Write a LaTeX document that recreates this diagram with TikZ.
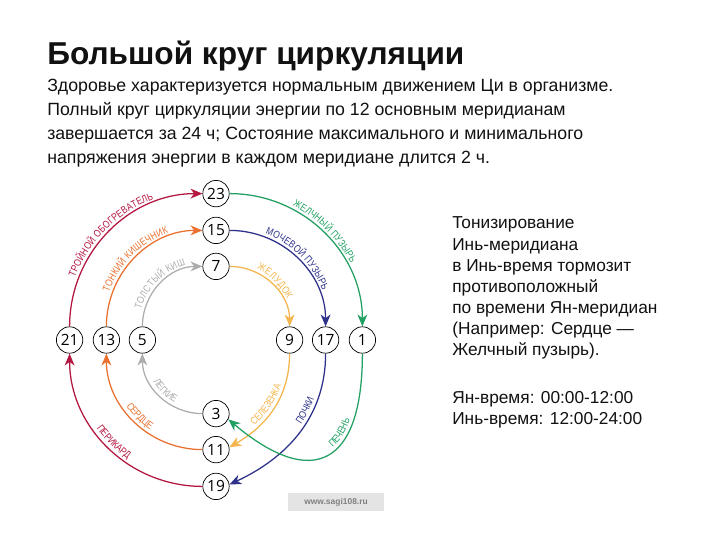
\documentclass[tikz,border=0pt]{standalone}
\usepackage{fontspec}
\setmainfont{Liberation Sans}
\newfontfamily\numfont{Open Sans}
\newfontfamily\arcfont[FakeStretch=0.82]{Liberation Sans}
\usepackage{xcolor}
\usepackage{tikz}
\usetikzlibrary{arrows.meta,decorations.text}
\definecolor{ArcRed}{HTML}{B3163F}
\definecolor{ArcOrange}{HTML}{E9702E}
\definecolor{ArcGray}{HTML}{ADADAD}
\definecolor{ArcYellow}{HTML}{F5B54E}
\definecolor{ArcBlue}{HTML}{2D3189}
\definecolor{ArcGreen}{HTML}{22A062}
\definecolor{TextDark}{HTML}{111111}
\definecolor{MarkGray}{HTML}{E4E4E4}

\begin{document}
\begin{tikzpicture}[hour/.style={circle,draw=black,fill=white,line width=0.5pt,
                        minimum size=0.66cm,inner sep=0pt,
                        font=\numfont\fontsize{11}{11}\selectfont},
                    fwd/.style={-{Stealth[length=8.5pt,width=7pt,inset=2.6pt]},line width=0.9pt},
                    rev/.style={{Stealth[length=8.5pt,width=7pt,inset=2.6pt]}-,line width=0.9pt},
                    lbl/.style n args={3}{postaction={decorate,decoration={text along path,
                        text={|\arcfont\fontsize{7.3}{7.3}\selectfont\color{#1}|#2},
                        text align={align=center,left indent=#3},raise=2.5pt}}}]
      \useasboundingbox (0,0) rectangle (18,-13.5);
      % heading and text
      \node[anchor=base west, inner sep=0pt, text=TextDark,
            font=\bfseries\fontsize{22.5}{26}\selectfont]
        (title) at (1.175,-1.60) {Большой круг циркуляции};
      \node[anchor=north west, inner sep=0pt, align=left, text=TextDark,
            font=\fontsize{12.6}{17}\selectfont]
        (intro) at (1.175,-1.97)
        {Здоровье характеризуется нормальным движением Ци в организме.\\
         Полный круг циркуляции энергии по 12 основным меридианам\\
         завершается за 24 ч; Состояние максимального и минимального\\
         напряжения энергии в каждом меридиане длится 2 ч.};
      \node[anchor=north west, inner sep=0pt, align=left, text=TextDark,
            font=\fontsize{12.3}{15}\selectfont]
        (note) at (11.3,-5.42)
        {Тонизирование\\
         Инь-меридиана\\
         в Инь-время тормозит\\
         противоположный\\
         по времени Ян-меридиан\\
         (Например: Сердце —\\
         Желчный пузырь).\\[19pt]
         Ян-время: 00:00-12:00\\
         Инь-время: 12:00-24:00};
      % hours
      \node[hour] (n23) at (5.40,-4.84) {23};
      \node[hour] (n15) at (5.40,-5.76) {15};
      \node[hour] (n7)  at (5.40,-6.66) {7};
      \node[hour] (n21) at (1.74,-8.50) {21};
      \node[hour] (n13) at (2.66,-8.50) {13};
      \node[hour] (n5)  at (3.56,-8.50) {5};
      \node[hour] (n9)  at (7.24,-8.50) {9};
      \node[hour] (n17) at (8.14,-8.50) {17};
      \node[hour] (n1)  at (9.06,-8.50) {1};
      \node[hour] (n3)  at (5.40,-10.34) {3};
      \node[hour] (n11) at (5.40,-11.24) {11};
      \node[hour] (n19) at (5.40,-12.16) {19};
      % meridians
      \draw[fwd,ArcRed,lbl={ArcRed}{ТРОЙНОЙ ОБОГРЕВАТЕЛЬ}{0pt}] (n21) to[out=90,in=180] (n23);
      \draw[fwd,ArcGreen,lbl={ArcGreen}{ЖЕЛЧНЫЙ ПУЗЫРЬ}{0pt}] (n23) to[out=0,in=90] (n1);
      \draw[fwd,ArcOrange,lbl={ArcOrange}{ТОНКИЙ КИШЕЧНИК}{0pt}] (n13) to[out=90,in=180] (n15);
      \draw[fwd,ArcBlue,lbl={ArcBlue}{МОЧЕВОЙ ПУЗЫРЬ}{0pt}] (n15) to[out=0,in=90] (n17);
      \draw[fwd,ArcGray,lbl={ArcGray}{ТОЛСТЫЙ КИШ}{0pt}] (n5) to[out=90,in=180] (n7);
      \draw[fwd,ArcYellow,lbl={ArcYellow}{ЖЕЛУДОК}{0pt}] (n7) to[out=0,in=90] (n9);
      \draw[rev,ArcRed,lbl={ArcRed}{ПЕРИКАРД}{0pt}] (n21) to[out=-90,in=180] (n19);
      \draw[rev,ArcOrange,lbl={ArcOrange}{СЕРДЦЕ}{0pt}] (n13) to[out=-90,in=180] (n11);
      \draw[rev,ArcGray,lbl={ArcGray}{ЛЕГКИЕ}{0pt}] (n5) to[out=-90,in=180] (n3);
      \draw[rev,ArcYellow,lbl={ArcYellow}{СЕЛЕЗЕНКА}{0pt}] (n11.10) to[out=30,in=-90] (n9);
      \draw[rev,ArcBlue,lbl={ArcBlue}{ПОЧКИ}{1.2cm}] (n19.8) to[out=25,in=-90] (n17);
      \draw[rev,ArcGreen,lbl={ArcGreen}{ПЕЧЕНЬ}{1.3cm}] (n3.-25) to[out=-40,in=-90,looseness=1.9] (n1);
      % site mark
      \node[fill=MarkGray, minimum width=2.4cm, minimum height=0.45cm, inner sep=0pt,
            text=gray, font=\bfseries\fontsize{6}{6}\selectfont]
        (mark) at (8.4,-12.55) {www.sagi108.ru};
    \end{tikzpicture}
\end{document}
